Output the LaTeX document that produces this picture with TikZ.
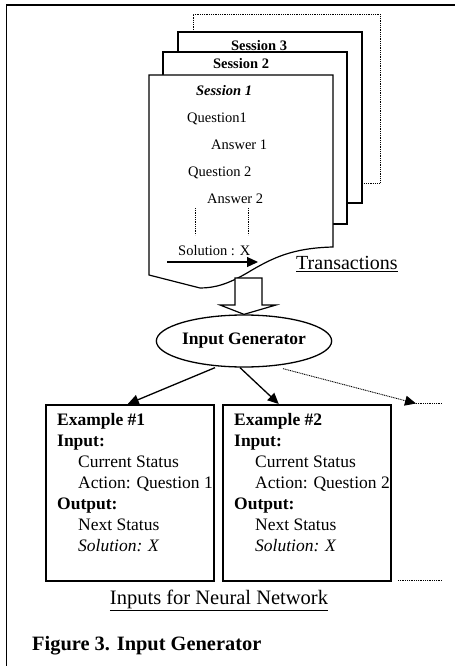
\documentclass[tikz,border=0pt]{standalone}
\usepackage{fontspec}
\setmainfont{Liberation Serif}
\usetikzlibrary{arrows.meta,shapes.geometric,calc}

\begin{document}
\begin{tikzpicture}[x=1pt,y=-1pt,
  frameline/.style={line width=1.3pt},
  pagebox/.style={line width=1.2pt, fill=white},
  dotline/.style={line width=0.9pt, dash pattern=on 1pt off 0.8pt},
  pagetext/.style={font=\fontsize{14.5}{17}\selectfont, inner sep=0pt, anchor=base west},
  pagehead/.style={font=\fontsize{14.5}{17}\selectfont\bfseries, inner sep=0pt, anchor=base},
  examplebox/.style={draw, line width=1.5pt, minimum width=168pt, minimum height=176pt, inner sep=0pt, anchor=north west},
  exampletext/.style={font=\fontsize{17.5}{21}\selectfont, align=left, inner sep=0pt, anchor=north west},
  tip/.style={-{Triangle[length=11pt,width=10pt]}},
  link/.style={tip, line width=1.3pt},
]
\useasboundingbox (0,0) rectangle (455,666);

% outer frame: top and left rules only
\draw[frameline] (6.5,666) -- (6.5,5) -- (455,5);

% stack of session pages, back to front
\draw[dotline, fill=white] (193,32) -- (193,14) -- (380,14) -- (380,183) -- (362,183);
\draw[pagebox] (178,32) rectangle (362,203);
\node[pagehead] (s3) at (259,51) {Session 3};
\draw[pagebox] (163,52) rectangle (347,224);
\node[pagehead] (s2) at (241,69) {Session 2};
\draw[pagebox] (149,75) -- (333,75) -- (333,247)
  .. controls (292,248) and (272,258) .. (247,273)
  .. controls (228,284) and (215,288) .. (200,288)
  -- (149,275) -- cycle;

% contents of the front page
\node[pagehead, font=\fontsize{14.5}{17}\selectfont\bfseries\itshape] (s1) at (224,96) {Session 1};
\node[pagetext] (q1) at (187,123) {Question1};
\node[pagetext] (a1) at (211,149) {Answer 1};
\node[pagetext] (q2) at (188,176) {Question 2};
\node[pagetext] (a2) at (207,203) {Answer 2};
\draw[dotline] (195,208) -- (195,235);
\draw[dotline] (248,208) -- (248,235);
\node[pagetext] (sol) at (178,255) {Solution : X};
\coordinate (solA) at (167,262);
\coordinate (solB) at (258,262);
\draw[tip, line width=1.2pt] (solA) -- (solB);

\node[font=\fontsize{20}{24}\selectfont, inner sep=0pt, anchor=base west] (trans) at (296,269.5) {\underline{Transactions}};

% generator
\node[draw, ellipse, line width=1.3pt, fill=white, minimum width=170pt, minimum height=52pt,
      inner sep=0pt, font=\fontsize{17.5}{21}\selectfont\bfseries] (gen) at (244,341) {Input Generator};

% block arrow from the page stack into the generator
\draw[line width=1.2pt, fill=white, line join=miter]
  (235,278) -- (262,278) -- (262,305) -- (276,305) -- (gen.north) -- (220,305) -- (235,305) -- cycle;

% examples
\node[examplebox] (ex1) at (45,404) {};
\node[examplebox] (ex2) at (222,404) {};

\node[exampletext] (t1) at ($(ex1.north west)+(12,9)$)
  {\textbf{Example \#1}\\ \textbf{Input:}\\ \hspace*{21pt}Current Status\\ \hspace*{21pt}Action: Question 1\\
   \textbf{Output:}\\ \hspace*{21pt}Next Status\\ \hspace*{21pt}\textit{Solution: X}};
\node[exampletext] (t2) at ($(ex2.north west)+(12,9)$)
  {\textbf{Example \#2}\\ \textbf{Input:}\\ \hspace*{21pt}Current Status\\ \hspace*{21pt}Action: Question 2\\
   \textbf{Output:}\\ \hspace*{21pt}Next Status\\ \hspace*{21pt}\textit{Solution: X}};

% connectors from the generator
\draw[link] ([xshift=-29pt]gen.south) -- ([xshift=-2pt]ex1.north);
\draw[link] ([xshift=-4pt]gen.south) -- ([xshift=-28pt]ex2.north);
\coordinate (more) at (416,403.5);
\coordinate (moreR) at (442,403.5);
\coordinate (moreB) at (398,580);
\coordinate (moreBR) at (442,580);
\draw[tip, dotline] ($(gen.south)+(39,1)$) -- (more);
\draw[dotline] (more) -- (moreR);
\draw[dotline] (moreB) -- (moreBR);

\node[font=\fontsize{20.5}{24}\selectfont, inner sep=0pt, anchor=base] (inputs) at (219,604.5) {\underline{Inputs for Neural Network}};

\node[font=\fontsize{20.4}{24}\selectfont\bfseries, inner sep=0pt, anchor=base west] (cap) at (32,650) {Figure 3. Input Generator};
\end{tikzpicture}
\end{document}
